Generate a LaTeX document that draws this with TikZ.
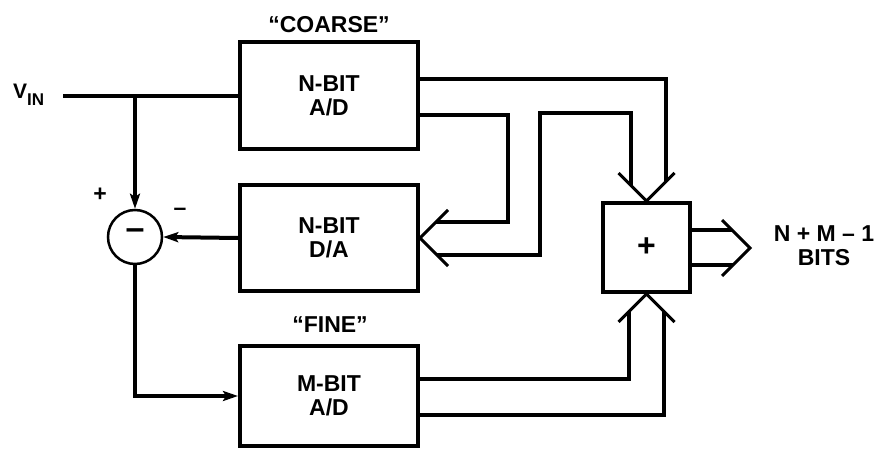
\documentclass[tikz,border=0pt]{standalone}
\usepackage{fontspec}
\setmainfont{Liberation Sans}
\usetikzlibrary{arrows.meta,calc}
\begin{document}
\begin{tikzpicture}[x=1pt,y=-1pt,
  txt/.style={font=\fontsize{23}{24}\selectfont\bfseries, inner sep=0pt},
  blk/.style={draw,line width=4pt,minimum width=178pt,align=center,txt},
  wire/.style={line width=4pt},
  bus/.style={line width=4pt},
  chev/.style={line width=3pt},
  sig/.style={wire,-{Stealth[length=15pt,width=10pt,inset=3pt]}}
]
\useasboundingbox (0,0) rectangle (877,449);
% blocks
\node[blk,minimum height=107pt] (cad) at (329,95.5) {N-BIT\\A/D};
\node[blk,minimum height=106pt] (da) at (329,238) {N-BIT\\D/A};
\node[blk,minimum height=100pt] (mad) at (329,396) {M-BIT\\A/D};
\node[draw,line width=4pt,minimum width=87pt,minimum height=89pt,inner sep=0pt,
      font=\fontsize{32}{32}\selectfont\bfseries] (add) at (646.5,247.5) {+};
\node[circle,draw,line width=2.5pt,minimum size=54pt,inner sep=0pt] (sum) at (135,237) {};
\node[font=\fontsize{34}{34}\selectfont\bfseries, inner sep=0pt] (sm) at (135,234) {–};
% labels
\node[txt] (tc) at (329,25) {“COARSE”};
\node[txt] (tf) at (330,325) {“FINE”};
\node[anchor=base west, inner sep=0pt, font=\fontsize{21}{22}\selectfont\bfseries] (vin) at (13,99)
  {V\raisebox{-7pt}{\fontsize{17}{17}\selectfont IN}};
\node[txt] (pl) at (100,195) {+};
\node[txt] (mi) at (180,212) {–};
\node[txt,align=center] (out) at (824,245.5) {N + M – 1\\BITS};
% analog signal paths
\coordinate (vs) at (63,96);
\coordinate (j) at (135,96);
\draw[wire] (vs) -- (vs -| cad.west);
\draw[sig] (j) -- (sum.north);
\draw[sig] (da.west) -- (sum.east);
\draw[sig] (sum.south) |- (mad.west);
% bus chevrons
\draw[chev] ($(add.north)+(-28,-28)$) -- (add.north) -- ($(add.north)+(28,-28)$);
\draw[chev] ($(add.south)+(-28,28)$) -- (add.south) -- ($(add.south)+(28,28)$);
\draw[chev] ($(da.east)+(28,-28)$) -- (da.east) -- ($(da.east)+(28,28)$);
\coordinate (ot) at (750,248);
\draw[chev] ($(ot)+(-28,-28)$) -- (ot) -- ($(ot)+(-28,28)$);
% coarse bus
\coordinate (b1) at (665,79);
\coordinate (b2) at (508,115);
\coordinate (b3) at (508,222);
\coordinate (b4) at (540,113);
\draw[bus] (cad.east |- b1) -| ($(add.north)+(19,-19)$);
\draw[bus] (cad.east |- b2) -| (b3) -- ($(da.east)+(16,-16)$);
\draw[bus] ($(da.east)+(17,17)$) -| (b4) -| ($(add.north)+(-16,-16)$);
% fine bus
\coordinate (b5) at (628,379);
\coordinate (b6) at (663,415);
\draw[bus] (mad.east |- b5) -| ($(add.south)+(-18,18)$);
\draw[bus] (mad.east |- b6) -| ($(add.south)+(17,17)$);
% output bus
\coordinate (o1) at ($(ot)+(-18,-18)$);
\coordinate (o2) at ($(ot)+(-17,17)$);
\draw[bus] (add.east |- o1) -- (o1);
\draw[bus] (add.east |- o2) -- (o2);
\end{tikzpicture}
\end{document}
